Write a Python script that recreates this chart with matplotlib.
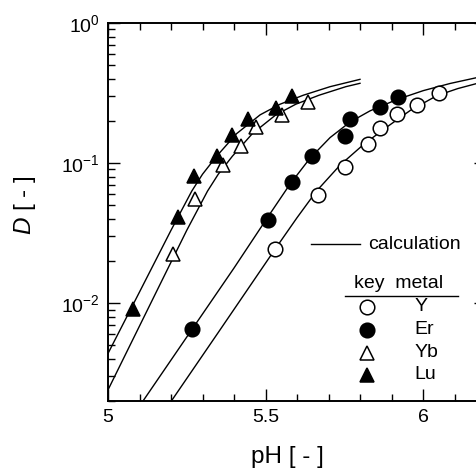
import matplotlib
matplotlib.use('Agg')
import matplotlib.pyplot as plt
from matplotlib.ticker import LogLocator, NullFormatter, MultipleLocator

plt.rcParams['font.family'] = ['Liberation Sans', 'DejaVu Sans']
plt.rcParams['mathtext.fontset'] = 'custom'
plt.rcParams['mathtext.rm'] = 'Liberation Sans'
plt.rcParams['mathtext.it'] = 'Liberation Sans:italic'

# 实验值
ph_y = [5.530, 5.668, 5.752, 5.826, 5.865, 5.918, 5.980, 6.051]
d_y = [0.0242, 0.059, 0.094, 0.137, 0.177, 0.223, 0.260, 0.318]
ph_er = [5.266, 5.509, 5.585, 5.649, 5.752, 5.768, 5.863, 5.920]
d_er = [0.00649, 0.0392, 0.0736, 0.112, 0.157, 0.205, 0.250, 0.298]
ph_yb = [5.205, 5.276, 5.366, 5.422, 5.470, 5.551, 5.636]
d_yb = [0.0226, 0.055, 0.0968, 0.133, 0.182, 0.220, 0.274]
ph_lu = [5.079, 5.221, 5.274, 5.345, 5.395, 5.443, 5.533, 5.583]
d_lu = [0.0091, 0.0414, 0.0807, 0.113, 0.158, 0.205, 0.246, 0.301]

# 计算曲线
calc_ph_y = [5.17, 5.35, 5.530, 5.600, 5.662, 5.737, 5.811, 5.884, 5.959, 6.043, 6.110, 6.20]
calc_d_y = [0.00158, 0.00617, 0.0242, 0.0407, 0.0631, 0.0968, 0.1355, 0.180, 0.237, 0.302, 0.340, 0.385]
calc_ph_er = [5.08, 5.266, 5.40, 5.509, 5.578, 5.641, 5.705, 5.768, 5.832, 5.917, 6.001, 6.086, 6.20]
calc_d_er = [0.00158, 0.00646, 0.0178, 0.0417, 0.0708, 0.108, 0.152, 0.196, 0.236, 0.284, 0.329, 0.370, 0.421]
calc_ph_yb = [5.00, 5.15, 5.25, 5.316, 5.35, 5.395, 5.458, 5.533, 5.596, 5.67, 5.755, 5.80]
calc_d_yb = [0.00240, 0.0116, 0.0331, 0.0631, 0.0832, 0.112, 0.162, 0.221, 0.263, 0.305, 0.351, 0.371]
calc_ph_lu = [5.00, 5.10, 5.20, 5.266, 5.30, 5.345, 5.408, 5.483, 5.546, 5.620, 5.705, 5.80]
calc_d_lu = [0.00437, 0.0120, 0.0331, 0.0631, 0.0832, 0.112, 0.162, 0.221, 0.263, 0.305, 0.351, 0.396]

metals = ['Y', 'Er', 'Yb', 'Lu']
markers = ['o', 'o', '^', '^']
faces = ['white', 'black', 'white', 'black']

fig = plt.figure(figsize=(4.77, 4.70), dpi=100)
ax = fig.add_axes([108 / 477, 69 / 470, 378 / 477, 378 / 470])

# 曲线
for px, dy in [(calc_ph_y, calc_d_y), (calc_ph_er, calc_d_er),
               (calc_ph_yb, calc_d_yb), (calc_ph_lu, calc_d_lu)]:
    ax.plot(px, dy, color='black', lw=1.0, zorder=2)

# 数据点
data = [(ph_y, d_y), (ph_er, d_er), (ph_yb, d_yb), (ph_lu, d_lu)]
for (px, dy), m, fc in zip(data, markers, faces):
    ax.plot(px, dy, linestyle='none', marker=m, ms=10.5, mfc=fc,
            mec='black', mew=1.1, zorder=3)

ax.set_yscale('log')
ax.set_xlim(5, 6.2)
ax.set_ylim(0.002, 1)
ax.set_xticks([5, 5.5, 6])
ax.set_xticklabels(['5', '5.5', '6'])
ax.xaxis.set_minor_locator(MultipleLocator(0.1))
ax.yaxis.set_major_locator(LogLocator(base=10, numticks=10))
ax.yaxis.set_minor_locator(LogLocator(base=10, subs=range(2, 10), numticks=10))
ax.yaxis.set_minor_formatter(NullFormatter())

ax.tick_params(which='both', direction='in', top=True, right=True,
               labelsize=14, width=1.0)
ax.tick_params(which='major', length=8.5, pad=6)
ax.tick_params(which='minor', length=5)
for s in ax.spines.values():
    s.set_linewidth(1.4)

ax.set_xlabel('pH [ - ]', fontsize=17.5)
ax.set_ylabel('$D$ [ - ]', fontsize=17.5)
ax.xaxis.set_label_coords(0.475, -0.148)
ax.yaxis.set_label_coords(-0.22, 0.518)
ax.xaxis.label.set_va('center')
ax.yaxis.label.set_va('center')

# 图例（手画）
tr = ax.transAxes
ax.plot([0.538, 0.667], [0.415, 0.415], color='black', lw=1.0, transform=tr)
ax.text(0.688, 0.415, 'calculation', transform=tr, fontsize=14, va='center')
ax.text(0.651, 0.312, 'key  metal', transform=tr, fontsize=14, va='center')
ax.plot([0.627, 0.926], [0.278, 0.278], color='black', lw=1.0, transform=tr)
rows = [0.249, 0.188, 0.127, 0.069]
for name, m, fc, ry in zip(metals, markers, faces, rows):
    ax.plot([0.685], [ry], marker=m, ms=10.5, mfc=fc, mec='black', mew=1.1,
            transform=tr, clip_on=False)
    ax.text(0.810, ry, name, transform=tr, fontsize=14, va='center')

fig.savefig('out.png', dpi=100)
